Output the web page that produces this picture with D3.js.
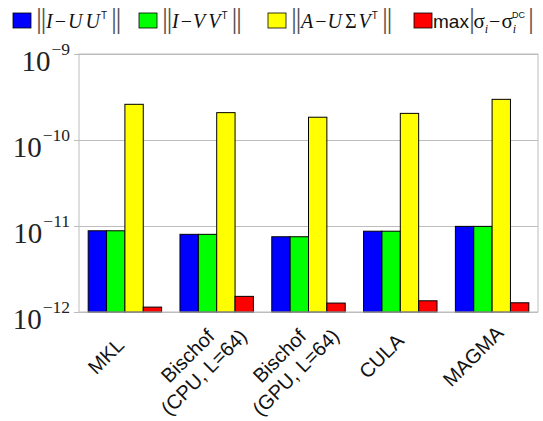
<!DOCTYPE html>
<html>
<head>
<meta charset="utf-8">
<script src="https://cdn.jsdelivr.net/npm/d3@7"></script>
<style>
  body { margin: 0; background: #fff; }
</style>
</head>
<body>
<div id="chart"></div>
<script>
// values
const methods = ["MKL", "Bischof (CPU, L=64)", "Bischof (GPU, L=64)", "CULA", "MAGMA"]
const methodLines = [["MKL"], ["Bischof", "(CPU, L=64)"], ["Bischof", "(GPU, L=64)"], ["CULA"], ["MAGMA"]]
const orthU = [8.8e-12, 8.0e-12, 7.5e-12, 8.7e-12, 9.9e-12]
const orthV = [8.8e-12, 8.0e-12, 7.5e-12, 8.7e-12, 9.9e-12]
const resid = [2.60e-10, 2.08e-10, 1.84e-10, 2.04e-10, 2.97e-10]
const sigmaErr = [1.14e-12, 1.52e-12, 1.27e-12, 1.35e-12, 1.28e-12]
const seriesKeys = ["orthU", "orthV", "resid", "sigma"]
const seriesColors = ["#0000ff", "#00ff00", "#ffff00", "#ff0000"]
const yTicks = [1e-12, 1e-11, 1e-10, 1e-9]
const yTickExp = ["\u221212", "\u221211", "\u221210", "\u22129"]

const width = 543, height = 421
const margin = { top: 54, right: 5, bottom: 109, left: 79 }
const plotW = width - margin.left - margin.right
const plotH = height - margin.top - margin.bottom

const rows = methods.map((m, i) => ({
    method: m,
    values: [orthU[i], orthV[i], resid[i], sigmaErr[i]]
}))

const svg = d3.select("#chart")
    .append("svg")
    .attr("width", width)
    .attr("height", height)
    .style("font-family", "'Liberation Sans', Arial, sans-serif")

/* SCALES */
const x0 = d3.scaleBand()
    .domain(methods)
    .range([0, plotW])
    .paddingInner(0.2)
    .paddingOuter(0.1)

const x1 = d3.scaleBand()
    .domain(seriesKeys)
    .range([0, x0.bandwidth()])

const y = d3.scaleLog()
    .domain([1e-12, 1e-9])
    .range([plotH, 0])

const color = d3.scaleOrdinal().domain(seriesKeys).range(seriesColors)

const plot = svg.append("g")
    .attr("transform", `translate(${margin.left},${margin.top})`)

// grid
plot.append("g")
    .call(d3.axisLeft(y).tickValues(yTicks).tickSize(-plotW).tickFormat(""))
    .call(g => g.select(".domain").remove())
    .call(g => g.selectAll("line").attr("stroke", "#bdbdbd"))

// BARS
plot.selectAll("g.group")
    .data(rows)
    .join("g")
    .attr("class", "group")
    .attr("transform", d => `translate(${x0(d.method)},0)`)
    .selectAll("rect")
    .data(d => d.values.map((v, i) => ({ key: seriesKeys[i], value: v })))
    .join("rect")
    .attr("x", d => x1(d.key))
    .attr("y", d => y(d.value))
    .attr("width", x1.bandwidth())
    .attr("height", d => y(1e-12) - y(d.value))
    .attr("fill", d => color(d.key))
    .attr("stroke", "#000")
    .attr("stroke-width", 1)

// frame
plot.append("rect")
    .attr("width", plotW)
    .attr("height", plotH)
    .attr("fill", "none")
    .attr("stroke", "#bdbdbd")

// y axis: ticks + 10^k labels
const yAxisGroup = plot.append("g")
    .call(d3.axisLeft(y).tickValues(yTicks).tickSize(5).tickFormat(""))
yAxisGroup.select(".domain").remove()
yAxisGroup.selectAll("line").attr("stroke", "#bdbdbd")
yAxisGroup.selectAll(".tick").each(function (d) {
    const t = d3.select(this).append("text")
        .attr("x", -9)
        .attr("y", 16.5)
        .attr("text-anchor", "end")
        .attr("fill", "#222")
        .style("font-family", "'Liberation Serif', 'Times New Roman', serif")
    t.append("tspan").attr("font-size", 29).text("10")
    t.append("tspan").attr("font-size", 17.5).attr("dy", -16).attr("dx", 1)
        .text(yTickExp[yTicks.indexOf(d)])
})

// x axis labels, rotated 45deg, lines centred on each other
const xAxisGroup = plot.append("g")
    .attr("transform", `translate(0,${plotH})`)
    .call(d3.axisBottom(x0).tickSize(0).tickFormat(""))
xAxisGroup.select(".domain").remove()
const fs = 20, lh = 23
xAxisGroup.selectAll(".tick").each(function (d) {
    const lines = methodLines[methods.indexOf(d)]
    const two = lines.length > 1
    const g = d3.select(this).append("g")
        .attr("transform", `translate(${two ? -21 : -19},${two ? 52 : 44}) rotate(-45)`)
    lines.forEach((ln, k) => {
        g.append("text")
            .attr("text-anchor", "middle")
            .attr("y", (k - (lines.length - 1) / 2) * lh + 0.35 * fs)
            .attr("font-size", fs)
            .attr("fill", "#111")
            .text(ln)
    })
})

/* LEGEND */
const serif = "'Liberation Serif', 'Times New Roman', serif"
const sans = "'Liberation Sans', Arial, sans-serif"
const bar = { f: serif, s: 30, fill: "#555", ls: -1.5 }
const it = { f: serif, s: 20, st: "italic" }
const rm = { f: serif, s: 20 }
const sup = { f: sans, s: 10 }
const sub = { f: serif, s: 12, st: "italic" }
const sig = { f: serif, s: 21 }

const legendSpecs = [
    [["||", bar], ["I", it, 1], ["\u2212", rm, 2], ["U", it, 2], ["U", it, 3], ["T", sup, 1, -9], ["||", bar, 4, 9]],
    [["||", bar], ["I", it, 1], ["\u2212", rm, 2], ["V", it, 1], ["V", it, 3], ["T", sup, 1, -9], ["||", bar, 4, 9]],
    [["||", bar], ["A", it, 1], ["\u2212", rm, 2], ["U", it, 1], ["\u03A3", rm, 3], ["V", it, 2], ["T", sup, 1, -9], ["||", bar, 4, 9]],
    [["max", { f: sans, s: 19 }], ["|", bar, 0], ["\u03C3", sig, 0], ["i", sub, 0, 5],
     ["\u2212", rm, 1, -5], ["\u03C3", sig, 1], ["i", sub, 0, 5],
     ["DC", { f: sans, s: 9 }, -4, -15], ["|", bar, 3, 10]]
]
const legendX = [13, 139, 268, 414]

const legend = svg.append("g")
legendSpecs.forEach((spec, i) => {
    const item = legend.append("g").attr("transform", `translate(${legendX[i]},13)`)
    item.append("rect")
        .attr("width", 18)
        .attr("height", 15)
        .attr("fill", seriesColors[i])
        .attr("stroke", "#000")
        .attr("stroke-width", 0.8)
    const t = item.append("text")
        .attr("x", i === 3 ? 19 : 23)
        .attr("y", 15)
        .attr("fill", "#111")
    spec.forEach(([txt, st, dx, dy]) => {
        const ts = t.append("tspan")
            .text(txt)
            .style("font-family", st.f)
            .attr("font-size", st.s)
        if (st.st) ts.style("font-style", st.st)
        if (st.fill) ts.attr("fill", st.fill)
        if (st.ls) ts.attr("letter-spacing", st.ls)
        if (dx) ts.attr("dx", dx)
        if (dy) ts.attr("dy", dy)
    })
})
</script>
</body>
</html>
